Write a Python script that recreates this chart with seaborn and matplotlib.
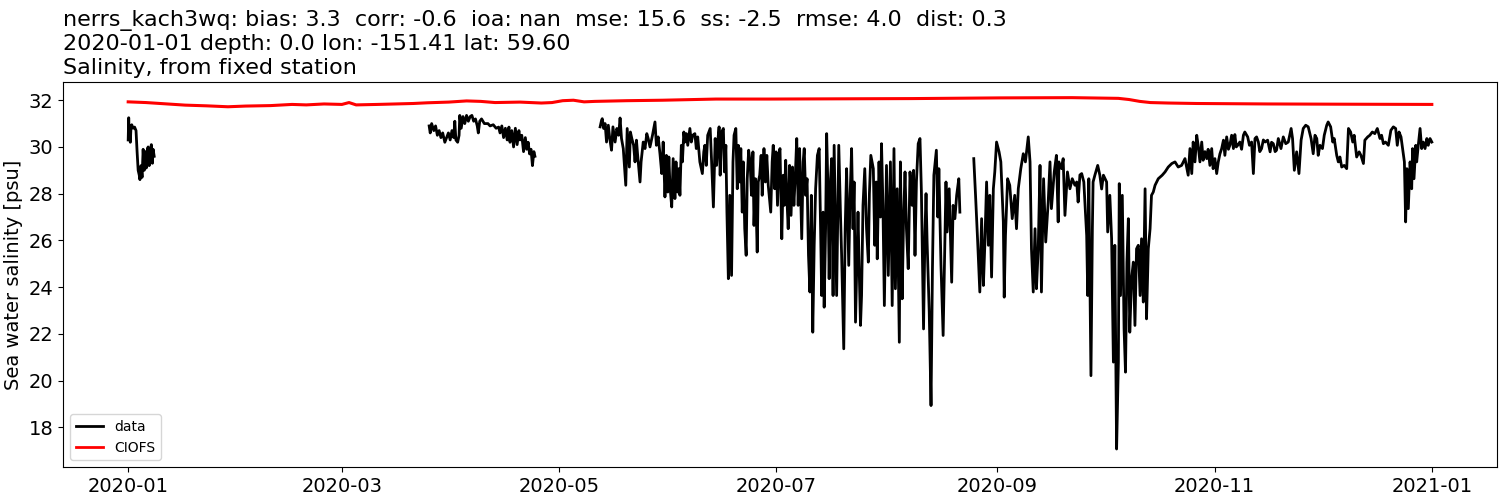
import numpy as np
import pandas as pd
import matplotlib
matplotlib.use('Agg')
import matplotlib.pyplot as plt
import seaborn as sns
from matplotlib.lines import Line2D

# observed salinity, days since 2020-01-01, split where the record has gaps
seg_a_days = [0, 0.15, 0.3, 0.45, 0.6, 0.8, 1.0, 1.4, 1.8, 2.2, 2.5, 2.8, 3.1, 3.3,
              3.6, 3.9, 4.2, 4.5, 4.8, 5.1, 5.4, 5.6, 5.9, 6.2, 6.5, 6.8, 7.0, 7.3]
seg_a_vals = [30.3, 31.25, 30.4, 30.9, 30.2, 30.9, 30.95, 30.8, 30.85, 30.7, 29.8, 29.0, 28.8, 28.6,
              29.2, 28.7, 29.9, 29.0, 29.8, 29.1, 29.9, 30.0, 29.2, 29.8, 30.1, 29.3, 29.9, 29.6]

seg_b_days = [84.5, 84.8, 85.2, 85.8, 86.3, 86.8, 87.3, 87.8, 88.3, 88.9, 89.4, 89.9, 90.4, 90.9,
              91.4, 91.7, 92.0, 92.5, 92.9, 93.1, 93.5, 94.0, 94.5, 95.0, 95.5, 96.0, 96.5, 97.0,
              97.5, 98.0, 98.3, 98.7, 99.2, 100.0, 101.0, 101.6, 102.5, 103.3, 104.0, 104.4, 104.9,
              105.4, 105.9, 106.4, 106.9, 107.2, 107.7, 108.2, 108.7, 109.2, 109.7, 110.0, 110.5,
              111.0, 111.5, 111.9, 112.3, 112.7, 113.1, 113.5, 113.9, 114.2]
seg_b_vals = [30.9, 30.6, 31.0, 30.7, 30.9, 30.5, 30.7, 30.4, 30.6, 30.2, 30.4, 30.6, 30.3, 30.7,
              30.4, 31.1, 30.3, 30.2, 30.5, 31.35, 30.8, 31.3, 31.0, 31.35, 31.1, 31.3, 31.35, 31.1,
              31.2, 30.9, 30.6, 31.1, 31.2, 31.0, 31.0, 30.9, 30.95, 30.8, 30.85, 30.6, 30.9,
              30.4, 30.8, 30.3, 30.85, 30.2, 30.7, 30.0, 30.8, 30.1, 30.7, 30.3, 30.5,
              29.8, 30.4, 29.9, 30.2, 29.7, 29.9, 29.2, 29.8, 29.6]

seg_c_days = [132.5, 132.9, 133.1, 133.5, 133.9, 134.3, 134.8, 135.2, 135.7, 136.1, 136.7, 137.2,
              137.7, 138.1, 138.5, 139.0, 139.7, 140.1, 140.4, 140.7, 141.0, 141.4, 141.9, 142.3,
              142.7, 143.0, 143.7, 144.0, 144.6, 145.1, 145.6, 146.0, 146.5, 147.2, 147.9, 148.3,
              148.8, 149.3, 149.8, 150.2, 150.7, 151.1, 151.5, 151.8, 152.1, 152.6, 153.0, 153.5,
              153.8, 154.2, 154.6, 154.9, 155.3, 155.6, 156.0, 156.3, 156.7, 157.1, 157.7, 158.1,
              158.5, 159.1, 159.5, 159.9, 160.5, 161.2, 161.6, 161.9, 162.3, 162.7, 163.4, 163.8,
              164.3, 164.8,
              165.2, 165.6, 165.9, 166.2, 166.6, 167.1, 167.4, 167.8, 168.1, 168.5, 168.9, 169.4,
              169.8, 170.1, 170.6, 171.0, 171.3, 171.7, 172.0, 172.4, 172.7, 173.1, 173.5, 173.8,
              174.2, 174.6, 175.0, 175.4, 175.7, 176.1, 176.6, 176.9, 177.3, 177.7, 178.0, 178.5,
              178.9, 179.3, 179.7, 180.4, 180.8, 181.1, 181.5, 181.9, 182.3, 182.7, 183.0, 183.5,
              183.9, 184.2, 184.6, 184.9, 185.3, 185.7, 186.1, 186.5, 186.9, 187.3, 187.7, 188.1,
              188.5, 189.1, 189.5, 189.8, 190.2, 190.6, 191.0, 191.4, 191.8, 192.2, 192.6, 193.0,
              193.5, 194.0, 194.4, 194.7, 195.1, 195.4, 195.8, 196.1, 196.5, 196.8, 197.2, 197.5,
              197.9, 198.2,
              198.9, 199.5, 200.0, 200.3, 200.9, 201.3, 201.7, 202.3, 202.7, 203.1, 203.5, 203.8,
              204.2, 204.9, 205.2, 205.6, 205.9, 206.3, 206.8, 207.3, 207.8, 208.1, 208.5, 209.2,
              209.6, 210.0, 210.3, 210.8, 211.2, 211.5, 211.9, 212.3, 212.9, 213.4, 214.0, 214.5,
              215.0, 215.4, 215.9, 216.5, 216.8, 217.3, 217.7, 218.1, 218.5, 219.0, 219.5, 220.1,
              220.5, 220.9, 221.3, 221.8, 222.3, 222.7, 223.3, 223.7, 224.0, 224.3, 224.9, 225.4,
              225.8, 226.2, 226.9, 227.3, 227.6, 228.2, 228.8, 229.3, 229.6, 229.9, 230.5, 231.2,
              231.6, 232.1, 232.6, 233.2, 233.5]
seg_c_vals = [30.86, 31.14, 31.21, 30.79, 31.0, 30.21, 30.93, 30.36, 29.86, 30.86, 30.21, 30.79,
              30.5, 31.24, 30.36, 29.93, 28.36, 30.79, 29.93, 29.14, 30.64, 30.36, 30.07, 29.36,
              30.29, 29.71, 28.5, 29.36, 30.21, 29.93, 30.57, 30.36, 30.0, 30.5, 31.07, 30.07,
              30.43, 29.71, 28.86, 30.21, 27.86, 29.64, 28.07, 29.57, 28.36, 27.43, 29.5, 27.79,
              29.36, 28.07, 29.07, 27.93, 30.07, 29.36, 30.64, 30.21, 30.57, 30.07, 30.79, 30.21,
              30.5, 30.57, 29.93, 30.43, 29.36, 28.86, 29.79, 30.07, 29.21, 30.5, 30.79, 29.36,
              27.43, 30.36,
              29.21, 30.36, 30.86, 28.79, 30.64, 30.79, 28.93, 30.07, 27.21, 24.36, 27.93, 24.5,
              29.36, 30.5, 30.79, 28.21, 30.07, 28.5, 29.93, 27.21, 29.36, 26.5, 25.36, 28.64,
              29.86, 29.36, 27.93, 29.79, 26.64, 28.64, 25.5, 28.5, 28.79, 29.64, 27.93, 29.93,
              28.5, 29.64, 28.36, 27.21, 29.36, 30.07, 28.21, 29.79, 27.5, 29.71, 29.93, 26.07,
              28.79, 27.5, 29.43, 27.93, 26.5, 29.21, 27.07, 29.14, 27.5, 28.79, 30.36, 27.5,
              29.93, 26.07, 29.36, 29.93, 27.93, 28.64, 25.36, 23.79, 27.93, 22.07, 25.79, 28.21,
              29.64, 29.93, 26.5, 23.64, 27.21, 23.14, 26.5, 30.57, 27.93, 24.36, 28.64, 29.5,
              23.64, 30.07,
              23.64, 30.07, 27.0, 25.36, 21.36, 26.5, 29.07, 24.93, 28.0, 29.93, 26.5, 28.5,
              22.5, 27.21, 25.0, 22.36, 23.64, 27.5, 29.07, 26.5, 25.07, 28.0, 29.64, 29.07,
              25.79, 28.5, 25.21, 29.36, 27.0, 30.14, 27.5, 23.21, 29.21, 24.5, 29.36, 23.21,
              29.93, 23.93, 28.21, 21.64, 29.36, 23.5, 27.0, 28.93, 26.5, 24.79, 28.93, 27.5,
              29.0, 25.36, 28.5, 30.14, 30.36, 28.07, 22.21, 26.36, 28.0, 25.93, 22.93, 18.93,
              24.79, 28.79, 29.86, 27.0, 29.07, 24.93, 21.93, 25.93, 28.5, 26.36, 28.21, 24.21,
              27.5, 26.93, 27.93, 28.64, 27.21]

seg_d_days = [237.4, 237.9, 238.5, 239.1, 239.6, 240.1, 240.5, 241.0, 241.5, 241.9, 242.4, 242.9,
              243.3, 243.8, 244.5, 245.0, 245.7, 245.95, 246.3, 246.9, 247.5, 248.2, 248.9, 249.4,
              249.9, 250.6, 251.3, 251.9, 252.7, 253.2, 253.6, 254.1, 254.6, 255.0, 255.5, 256.0,
              256.4, 257.0, 257.6, 258.3, 258.8, 259.2, 260.0, 260.6, 261.1, 261.3, 262.05, 262.5,
              263.0, 263.7, 264.4, 265.05, 265.8,
              266.3, 266.7, 267.2, 267.7, 268.3, 269.1, 269.4, 269.7, 270.3, 270.7, 270.9, 271.4,
              272.2, 272.8, 273.3, 273.8, 274.7, 275.0, 275.6, 276.1, 276.6, 277.0, 277.5, 278.0,
              278.25, 278.6, 279.1, 279.6, 280.0, 280.4, 280.8, 281.2, 281.7, 282.2, 282.65, 283.1,
              283.6, 284.1, 284.5, 285.0, 285.5, 285.9, 286.4, 286.9, 287.3, 287.8, 288.3, 289.2,
              290.3, 291.1, 292.0, 293.0, 293.9, 294.8, 295.75, 296.7, 297.6, 298.1, 298.6, 299.0,
              299.5,
              300.0, 300.4, 300.9, 301.4, 301.8, 302.3, 302.8, 303.2, 303.7, 304.2, 304.6, 305.1,
              305.6, 306.05, 306.5, 307.0, 307.5, 307.9, 308.4, 308.9, 309.3, 309.8, 310.3, 310.7,
              311.1, 311.5, 312.1, 312.6, 313.1, 313.5, 314.3, 314.8, 315.4, 315.9, 316.35, 316.8,
              317.3, 317.7, 318.2, 318.7, 319.2, 319.9, 320.6, 321.0, 321.5, 322.0, 322.4, 322.9,
              323.65, 324.3, 325.0, 325.7, 326.5, 326.9, 327.4, 328.05, 328.7, 329.3, 329.9, 330.6,
              331.3, 332.1, 332.7, 333.2,
              333.7, 334.1, 334.6, 335.3, 335.8, 336.5, 336.9, 337.6, 338.2, 338.6, 339.3, 339.75,
              340.2, 340.7, 341.4, 342.1, 342.6, 343.2, 343.8, 344.2, 344.9, 345.6, 346.1, 346.8,
              347.2, 348.0, 348.6, 349.3, 350.0, 350.7, 351.45, 351.9, 352.4, 353.0, 353.8, 354.5,
              355.2, 355.85, 356.3, 356.8, 357.35, 357.8, 358.3, 358.65, 359.0, 359.4, 359.9, 360.35,
              360.6, 361.0, 361.5, 361.75, 362.2, 362.7, 363.15, 363.6, 364.1, 364.6, 365.0, 365.5,
              366.0]
seg_d_vals = [29.5, 27.93, 25.93, 23.79, 26.93, 24.07, 25.79, 28.5, 25.79, 27.93, 24.43, 28.21,
              28.93, 30.21, 29.79, 29.36, 26.79, 23.57, 26.21, 28.64, 28.36, 26.93, 27.93, 26.5,
              28.21, 29.07, 29.71, 29.36, 30.43, 29.36, 25.64, 23.79, 26.5, 23.93, 25.64, 29.21,
              23.79, 28.64, 25.93, 27.64, 29.36, 27.36, 28.93, 29.64, 26.79, 29.36, 29.07, 29.5,
              27.07, 28.93, 28.21, 28.64, 28.36,
              28.5, 27.64, 28.8, 28.86, 28.5, 26.21, 23.64, 28.64, 20.21, 26.5, 28.5, 28.79,
              29.21, 28.79, 28.2, 28.79, 28.5, 26.36, 27.93, 26.07, 20.79, 25.79, 17.07, 20.79,
              28.43, 23.64, 27.93, 22.21, 20.36, 25.07, 26.93, 22.07, 24.36, 25.07, 22.36, 25.64,
              25.79, 23.64, 26.07, 23.36, 28.21, 22.64, 25.64, 26.5, 27.93, 28.07, 28.36, 28.64,
              28.79, 28.93, 29.14, 29.29, 29.36, 29.14, 29.21, 29.5, 28.79, 29.93, 28.86, 30.21,
              29.36,
              30.5, 30.07, 29.36, 30.21, 29.43, 29.8, 29.5, 29.9, 29.21, 29.93, 29.07, 29.5,
              28.86, 29.36, 29.7, 29.93, 30.29, 29.64, 30.43, 29.9, 30.07, 30.5, 29.93, 30.53,
              30.0, 30.07, 30.21, 29.9, 30.5, 30.64, 30.43, 30.07, 30.21, 28.86, 30.36, 30.43,
              30.21, 29.8, 29.93, 30.3, 30.21, 30.29, 29.79, 30.2, 30.14, 29.8, 29.86, 30.36,
              29.93, 30.43, 30.14, 30.21, 30.79, 30.36, 29.0, 29.79, 28.86, 30.29, 30.79, 30.93,
              30.86, 30.36, 29.71, 30.5,
              30.36, 29.64, 30.07, 29.93, 30.5, 30.93, 31.07, 30.86, 30.21, 30.36, 29.64, 29.36,
              29.57, 29.14, 29.21, 29.07, 30.79, 30.64, 30.21, 30.5, 29.57, 29.79, 29.64, 29.29,
              30.29, 30.43, 30.5, 30.64, 30.57, 30.79, 30.36, 30.5, 30.14, 30.21, 30.07, 30.71,
              30.86, 30.79, 30.07, 30.64, 30.43, 29.93, 29.36, 26.79, 29.07, 27.36, 29.36, 28.21,
              29.93, 28.64, 30.07, 29.36, 30.07, 30.79, 29.93, 30.21, 29.93, 30.36, 30.07, 30.36,
              30.21]

# CIOFS model salinity
model_days = [0, 5, 10, 16, 22, 28, 33, 40, 46, 50, 55, 60, 62, 64, 70, 75, 80, 84, 90, 95,
              99, 103, 110, 116, 119, 122, 125, 128, 131, 140, 150, 165, 180, 200, 220, 245,
              265, 278, 281, 284, 287, 292, 300, 320, 340, 366]
model_vals = [31.93, 31.9, 31.85, 31.79, 31.76, 31.72, 31.75, 31.77, 31.82, 31.8, 31.84, 31.82,
              31.9, 31.8, 31.82, 31.84, 31.86, 31.89, 31.92, 31.97, 31.95, 31.9, 31.92, 31.88,
              31.9, 31.98, 32.0, 31.93, 31.95, 31.98, 32.0, 32.05, 32.05, 32.06, 32.07, 32.1,
              32.11, 32.08, 32.03, 31.95, 31.9, 31.88, 31.86, 31.84, 31.83, 31.82]

start = pd.Timestamp('2020-01-01')


def to_time(days):
    return start + pd.to_timedelta(np.array(days), unit='D')


obs = pd.concat([
    pd.DataFrame({'time': to_time(d), 'salinity': v, 'segment': i})
    for i, (d, v) in enumerate([(seg_a_days, seg_a_vals), (seg_b_days, seg_b_vals),
                                (seg_c_days, seg_c_vals), (seg_d_days, seg_d_vals)])
])
model = pd.DataFrame({'time': to_time(model_days), 'salinity': model_vals})

fig, ax = plt.subplots(figsize=(15, 5), dpi=100)
sns.lineplot(data=obs, x='time', y='salinity', units='segment', estimator=None,
             color='k', lw=2, ax=ax)
sns.lineplot(data=model, x='time', y='salinity', color='r', lw=2.2, ax=ax)

ax.set_title('nerrs_kach3wq: bias: 3.3  corr: -0.6  ioa: nan  mse: 15.6  ss: -2.5  rmse: 4.0  dist: 0.3\n'
             '2020-01-01 depth: 0.0 lon: -151.41 lat: 59.60\n'
             'Salinity, from fixed station', loc='left', fontsize=16)
ax.set_xlabel('')
ax.set_ylabel('Sea water salinity [psu]', fontsize=14)
ax.set_ylim(16.3, 32.78)
ax.tick_params(labelsize=14)

handles = [Line2D([], [], color='k', lw=2), Line2D([], [], color='r', lw=2)]
ax.legend(handles, ['data', 'CIOFS'], loc='lower left', fontsize=10)

fig.subplots_adjust(left=0.042, right=0.998, bottom=0.066, top=0.836)
fig.savefig('out.png')
